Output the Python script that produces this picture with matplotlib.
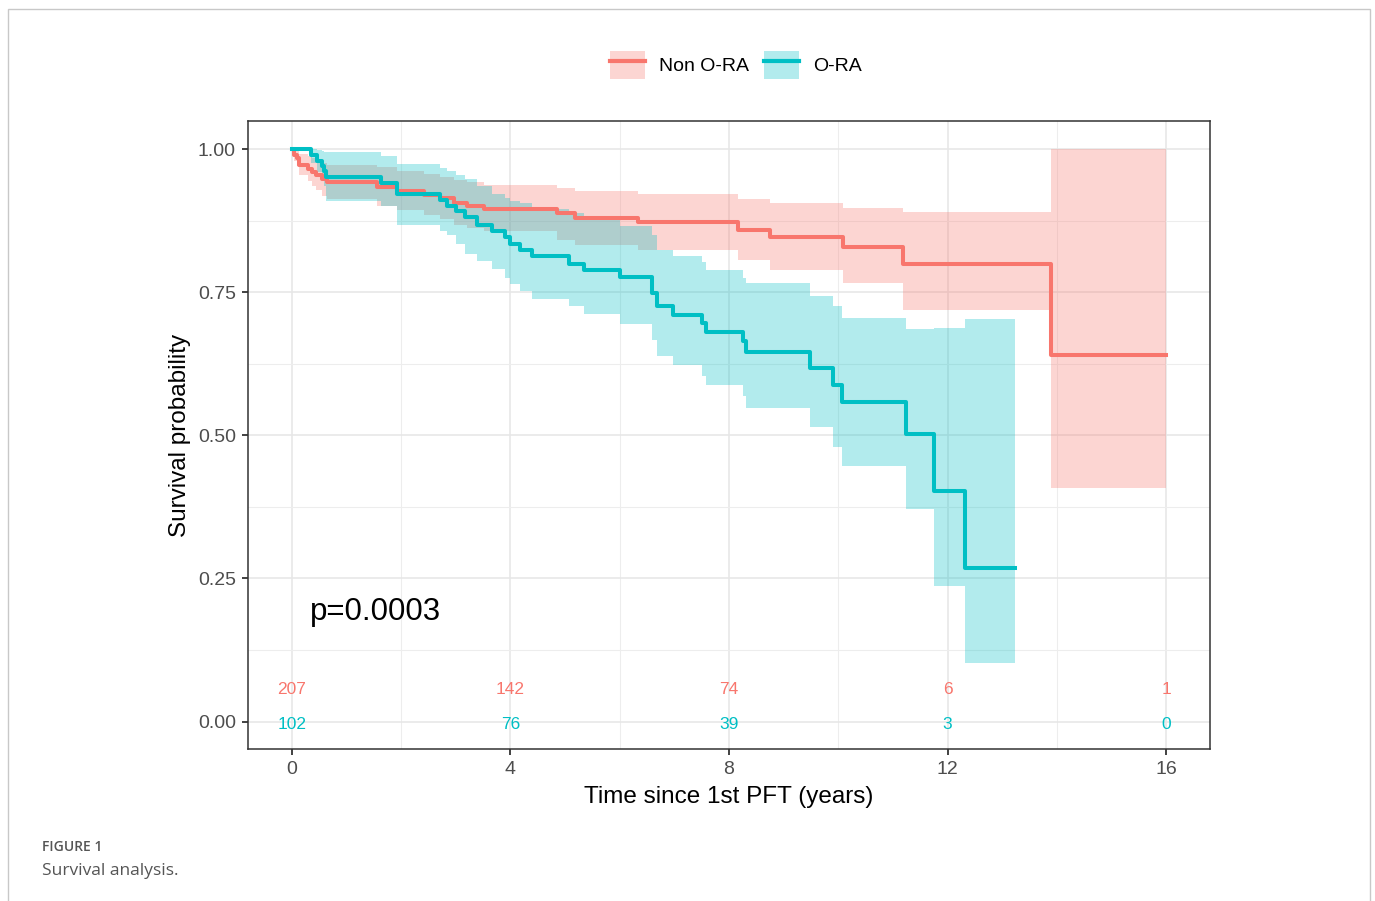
import numpy as np
import matplotlib
matplotlib.use("Agg")
import matplotlib.pyplot as plt
from matplotlib.patches import Patch, Rectangle
from matplotlib.lines import Line2D

plt.rcParams['font.family'] = ['Liberation Sans', 'DejaVu Sans']

RED = '#F8766D'
TEAL = '#00BFC4'

# Non O-RA: KM steps (where='post'), last entry is the end of follow-up
nonora_t = [0, 0.04, 0.10, 0.13, 0.29, 0.38, 0.44, 0.56, 0.65, 1.56, 1.93, 2.42,
            2.72, 2.96, 3.21, 3.51, 4.85, 5.19, 6.34, 8.17, 8.75, 10.09, 11.18,
            13.9, 16.0]
nonora_s = [1.0, 0.990, 0.985, 0.972, 0.966, 0.960, 0.955, 0.947, 0.943, 0.933,
            0.926, 0.920, 0.914, 0.905, 0.901, 0.895, 0.888, 0.880, 0.872, 0.859,
            0.846, 0.829, 0.800, 0.640, 0.640]
nonora_hi = [1.0, 1.0, 0.998, 0.992, 0.988, 0.984, 0.980, 0.976, 0.973, 0.968,
             0.962, 0.957, 0.952, 0.946, 0.942, 0.937, 0.932, 0.927, 0.921, 0.913,
             0.906, 0.897, 0.890, 1.0, 1.0]
nonora_lo = [1.0, 0.980, 0.970, 0.955, 0.945, 0.935, 0.928, 0.918, 0.912, 0.900,
             0.893, 0.885, 0.878, 0.868, 0.862, 0.856, 0.842, 0.832, 0.824, 0.806,
             0.789, 0.766, 0.719, 0.408, 0.408]

# O-RA
ora_t = [0, 0.35, 0.47, 0.56, 0.59, 0.62, 1.63, 1.93, 2.72, 2.84, 3.0, 3.17,
         3.39, 3.67, 3.91, 4.0, 4.18, 4.40, 5.07, 5.34, 6.01, 6.59, 6.68, 6.98,
         7.50, 7.58, 8.26, 8.32, 9.49, 9.90, 10.07, 11.24, 11.75, 12.32, 13.24]
ora_s = [1.0, 0.990, 0.980, 0.970, 0.961, 0.951, 0.941, 0.921, 0.911, 0.901,
         0.891, 0.882, 0.867, 0.857, 0.847, 0.834, 0.824, 0.813, 0.800, 0.789,
         0.776, 0.748, 0.725, 0.710, 0.696, 0.680, 0.664, 0.645, 0.617, 0.588,
         0.559, 0.503, 0.402, 0.268, 0.268]
ora_hi = [1.0, 1.0, 0.998, 0.996, 0.995, 0.994, 0.988, 0.974, 0.967, 0.962,
          0.955, 0.947, 0.935, 0.922, 0.914, 0.910, 0.905, 0.896, 0.888, 0.876,
          0.866, 0.850, 0.824, 0.813, 0.803, 0.789, 0.774, 0.766, 0.744, 0.725,
          0.705, 0.686, 0.687, 0.703, 0.703]
ora_lo = [1.0, 0.975, 0.960, 0.945, 0.935, 0.910, 0.900, 0.868, 0.857, 0.850,
          0.834, 0.816, 0.805, 0.790, 0.775, 0.764, 0.752, 0.738, 0.726, 0.711,
          0.694, 0.667, 0.638, 0.623, 0.603, 0.588, 0.568, 0.547, 0.514, 0.480,
          0.446, 0.371, 0.236, 0.103, 0.103]

risk_times = [0, 4, 8, 12, 16]
risk_nonora = [207, 142, 74, 6, 1]
risk_ora = [102, 76, 39, 3, 0]

fig = plt.figure(figsize=(13.75, 9.01), dpi=100)
ax = fig.add_axes([248/1375, 1-749/901, 962/1375, 628/901])

ax.fill_between(nonora_t, nonora_lo, nonora_hi, step='post', color=RED, alpha=0.3, lw=0)
ax.step(nonora_t, nonora_s, where='post', color=RED, lw=2.9)
ax.fill_between(ora_t, ora_lo, ora_hi, step='post', color=TEAL, alpha=0.3, lw=0)
ax.step(ora_t, ora_s, where='post', color=TEAL, lw=2.9)

ax.text(0.33, 0.192, 'p=0.0003', fontsize=22.5, ha='left', va='center')

for t, a, b in zip(risk_times, risk_nonora, risk_ora):
    ax.text(t, 0.056, str(a), color=RED, fontsize=12.5, ha='center', va='center')
    ax.text(t, -0.006, str(b), color=TEAL, fontsize=12.5, ha='center', va='center')

ax.set_xlim(-0.8, 16.8)
ax.set_ylim(-0.048, 1.049)
ax.set_xticks([0, 4, 8, 12, 16])
ax.set_xticks([2, 6, 10, 14], minor=True)
ax.set_yticks([0, 0.25, 0.5, 0.75, 1.0])
ax.set_yticklabels(['0.00', '0.25', '0.50', '0.75', '1.00'])
ax.set_yticks([0.125, 0.375, 0.625, 0.875], minor=True)
ax.grid(True, which='major', color='#e6e6e6', lw=1.1)
ax.grid(True, which='minor', color='#ededed', lw=0.8)
ax.set_axisbelow(True)
ax.tick_params(which='major', length=4.5, width=1.3, color='#333333',
               labelsize=14, labelcolor='#4d4d4d', pad=4.2)
ax.tick_params(which='minor', length=0)
for sp in ax.spines.values():
    sp.set_color('#333333')
    sp.set_linewidth(1.1)

ax.set_xlabel('Time since 1st PFT (years)', fontsize=17.5, labelpad=6)
ax.set_ylabel('Survival probability', fontsize=17.5, labelpad=5)

h_red = (Patch(facecolor=RED, alpha=0.3, edgecolor='none'), Line2D([], [], color=RED, lw=3))
h_teal = (Patch(facecolor=TEAL, alpha=0.3, edgecolor='none'), Line2D([], [], color=TEAL, lw=3))
fig.legend([h_red, h_teal], ['Non O-RA', 'O-RA'], loc='center',
           bbox_to_anchor=(736/1375, 1-65/901), ncol=2, frameon=False,
           fontsize=14, handlelength=1.8, handleheight=1.8,
           handletextpad=0.7, columnspacing=0.8)

fig.patches.append(Rectangle((8/1375, -0.05), 1362/1375, 1.05-9/901,
                             transform=fig.transFigure, fill=False,
                             edgecolor='#c8c8c8', lw=1))
fig.text(42/1375, 1-847/901, 'FIGURE 1', family=['Open Sans', 'DejaVu Sans'],
         fontweight='semibold', fontsize=10, color='#555555', va='center')
fig.text(42/1375, 1-871/901, 'Survival analysis.', family=['Open Sans', 'DejaVu Sans'],
         fontsize=12.5, color='#555555', va='center')

fig.savefig('out.png', dpi=100)
